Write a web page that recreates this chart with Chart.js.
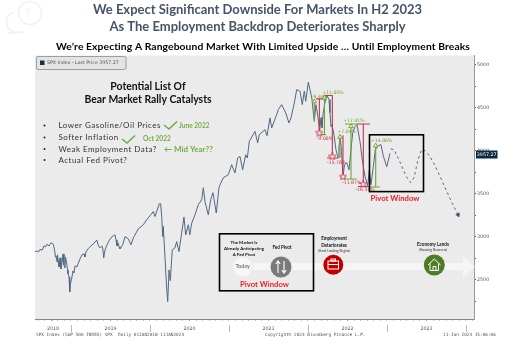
<!DOCTYPE html>
<html>
<head>
<meta charset="utf-8">
<title>SPX rangebound chart</title>
<script src="https://cdn.jsdelivr.net/npm/chart.js@4"></script>
<style>
  html, body { margin: 0; padding: 0; background: #fff; }
  canvas { display: block; filter: blur(0.35px); }
</style>
</head>
<body>
<canvas id="myChart" width="515" height="352"></canvas>
<script>
// SPX daily line (decimal year, index level)
var spxYears = [2018.544,2018.570,2018.589,2018.608,2018.633,2018.658,2018.677,2018.696,2018.722,2018.747,2018.766,2018.778,2018.791,2018.804,2018.810,2018.823,2018.829,2018.842,2018.848,2018.861,2018.873,2018.886,2018.899,2018.911,2018.924,2018.930,2018.943,2018.956,2018.962,2018.975,2018.984,2018.994,
  2019.006,2019.025,2019.038,2019.051,2019.076,2019.089,2019.114,2019.139,2019.165,2019.177,2019.190,2019.215,2019.253,2019.291,2019.316,2019.329,2019.342,2019.367,2019.392,2019.405,2019.414,2019.430,2019.456,2019.481,2019.519,2019.538,2019.557,2019.570,2019.582,2019.595,2019.608,2019.620,2019.654,2019.684,2019.725,2019.759,2019.789,2019.852,2019.915,2019.958,
  2020.042,2020.063,2020.118,2020.135,2020.148,2020.161,2020.168,2020.190,2020.211,2020.224,2020.241,2020.257,2020.282,2020.316,2020.338,2020.367,2020.401,2020.430,2020.452,2020.485,2020.503,2020.528,2020.570,2020.611,2020.654,2020.675,2020.696,2020.738,2020.768,2020.797,2020.839,2020.873,2020.892,2020.928,2020.991,
  2021.034,2021.076,2021.110,2021.139,2021.173,2021.211,2021.232,2021.257,2021.329,2021.363,2021.384,2021.456,2021.481,2021.519,2021.540,2021.604,2021.624,2021.667,2021.718,2021.759,2021.785,2021.827,2021.857,2021.899,2021.928,2021.953,2021.971,
  2022.004,2022.025,2022.051,2022.070,2022.080,2022.101,2022.127,2022.146,2022.165,2022.177,2022.190,2022.215,2022.241,2022.266,2022.278,2022.291,2022.304,2022.329,2022.354,2022.380,2022.392,2022.409,2022.424,2022.443,2022.462,2022.490,2022.519,2022.544,2022.566,2022.595,2022.620,2022.658,2022.692,2022.722,2022.756,2022.776,2022.797,2022.827,2022.852,2022.890,2022.924,2022.954,2022.997,2023.038];
var spxPrices = [2826,2837,2826,2855,2843,2895,2884,2913,2895,2930,2924,2907,2849,2767,2779,2709,2791,2698,2651,2756,2628,2698,2802,2674,2640,2767,2709,2616,2570,2535,2360,2465,
  2500,2605,2581,2663,2651,2686,2744,2791,2802,2767,2826,2860,2895,2924,2953,2959,2907,2872,2895,2849,2756,2849,2907,2953,3003,3012,3023,2965,2895,2930,2884,2860,2907,3003,2977,2907,2988,3093,3140,3198,
  3294,3236,3384,3384,3236,3003,3120,2756,2407,2248,2616,2492,2849,2872,2945,2829,3047,3229,3023,3140,3023,3159,3256,3372,3430,3570,3410,3256,3430,3512,3276,3570,3616,3686,3721,
  3837,3741,3915,3934,3779,3953,3915,4108,4224,4090,4186,4244,4174,4380,4264,4419,4477,4535,4438,4322,4380,4555,4709,4690,4535,4690,4573,
  4794,4709,4593,4419,4349,4535,4384,4221,4384,4267,4419,4558,4640,4593,4442,4279,4302,4186,4012,3919,4047,4151,3988,3698,3837,3860,3779,4012,4209,4279,4302,4108,3860,3701,3593,3779,3605,3817,4012,4058,4070,3934,3814,3969];

// Projected path, dashed
var pathYears = [2023.047,2023.089,2023.152,2023.206,2023.253,2023.300,2023.342,2023.392,2023.439,2023.481,2023.544,2023.608,2023.671,2023.759,2023.823,2023.899];
var pathPrices = [4020,4012,3895,3779,3686,3631,3686,3895,4012,4000,3934,3826,3701,3523,3395,3256];

// Rally and drawdown brackets, null breaks the line
var rallyYears = [2022.080,2022.080,null,2022.208,2022.208,null,2022.165,2022.228,null,2022.405,2022.405,null,2022.544,2022.544,null,2022.456,2022.616,null,2022.468,2022.633,null,2022.857,2022.857,null,2022.785,2022.911];
var rallyPrices = [4570,4337,null,4616,4186,null,4186,4186,null,4159,3919,null,4283,3671,null,3671,3671,null,4310,4310,null,4058,3578,null,3578,3578];
var dropYears = [2022.144,2022.144,null,2022.102,2022.215,null,2022.308,2022.308,null,2022.215,2022.312,null,2022.241,2022.380,null,2022.443,2022.443,null,2022.414,2022.468,null,2022.700,2022.700,null,2022.620,2022.785,null,2022.633,2022.785];
var dropPrices = [4601,4209,null,4601,4601,null,4640,3934,null,4640,4640,null,3915,3915,null,4178,3701,null,3683,3683,null,4310,3613,null,4310,4310,null,3585,3585];

var peakYears = [2022.080,2022.208,2022.405,2022.544,2022.857];
var peakPrices = [4570,4616,4159,4283,4058];
var troughYears = [2022.144,2022.308,2022.443,2022.700];
var troughPrices = [4209,3934,3701,3613];

var pctLabels = ["+6.44%","+11.05%","-9.08%","-15.78%","+7.04%","+17.41%","-11.87%","-16.31%","+14.06%"];
var pctYears = [2022.139,2022.316,2022.215,2022.363,2022.490,2022.582,2022.553,2022.722,2022.933];
var pctPrices = [4628,4674,4136,3864,4221,4349,3631,3547,4116];

var yTickValues = [2250,2500,2750,3000,3250,3500,3750,4000,4250,4500,4750,5000];
var yearLabels = ["2018","2019","2020","2021","2022","2023"];
var yearLabelAt = [2018.772,2019.5,2020.5,2021.5,2022.5,2023.5];
var yearStarts = [2019,2020,2021,2022,2023,2024];

var catalysts = ["Lower Gasoline/Oil Prices","Softer Inflation","Weak Employment Data?","Actual Fed Pivot?"];

function zip(xs, ys) {
  return xs.map(function (x, i) { return { x: x, y: ys[i] }; });
}

var GREEN = "#6fa32e", RED = "#c8324c", SANS = "Lato, 'Open Sans', sans-serif";

// Hollow five point star, Chart.js has only the asterisk kind
function starImage() {
  var c = document.createElement("canvas"), g = c.getContext("2d"), i;
  c.width = c.height = 8;
  g.beginPath();
  for (i = 0; i < 10; i++) {
    var r = i % 2 ? 1.7 : 3.8, a = -Math.PI / 2 + i * Math.PI / 5;
    g.lineTo(4 + r * Math.cos(a), 4.3 + r * Math.sin(a));
  }
  g.closePath();
  g.fillStyle = "#f6e6e6";
  g.strokeStyle = RED;
  g.lineWidth = 0.9;
  g.fill();
  g.stroke();
  return c;
}

function text(ctx, str, x, y, font, color, align, spacing) {
  ctx.font = font;
  ctx.fillStyle = color;
  ctx.textAlign = align || "left";
  ctx.textBaseline = "middle";
  ctx.letterSpacing = (spacing || 0) + "px";
  ctx.fillText(str, x, y);
  ctx.letterSpacing = "0px";
}

function check(ctx, a, b, c, d, e, f) {
  ctx.strokeStyle = "#70ad47";
  ctx.lineWidth = 1.6;
  ctx.beginPath();
  ctx.moveTo(a, b); ctx.lineTo(c, d); ctx.lineTo(e, f);
  ctx.stroke();
}

function circle(ctx, x, y, r, color) {
  ctx.fillStyle = color;
  ctx.beginPath();
  ctx.arc(x, y, r, 0, Math.PI * 2);
  ctx.fill();
}

// Grey panel behind the chart
var panelPlugin = {
  id: "panel",
  beforeDraw: function (chart) {
    var a = chart.chartArea, ctx = chart.ctx;
    ctx.save();
    ctx.fillStyle = "#fff";
    ctx.fillRect(0, 0, chart.width, chart.height);
    ctx.fillStyle = "#ebebeb";
    ctx.fillRect(a.left, a.top, a.right - a.left, a.bottom - a.top);

    // faint speech bubbles in the corner
    ctx.strokeStyle = "#f0f0f0";
    ctx.lineWidth = 1.5;
    ctx.beginPath();
    ctx.arc(30, 13, 11.5, 0, Math.PI * 2);
    ctx.stroke();
    ctx.beginPath();
    ctx.arc(17, 22, 10.5, 1.6, 4.3);
    ctx.stroke();
    ctx.beginPath();
    ctx.moveTo(9, 33); ctx.lineTo(24, 32);
    ctx.stroke();
    text(ctx, "?", 28, 13, "11px " + SANS, "#ededed", "center");
    ctx.restore();
  }
};

// Text, boxes and the timeline that sit on top of the line
var overlayPlugin = {
  id: "overlay",
  afterDraw: function (chart) {
    var ctx = chart.ctx, xs = chart.scales.x, ys = chart.scales.y, i;
    ctx.save();

    text(ctx, "We\u2019re Expecting A Rangebound Market With Limited Upside \u2026 Until Employment Breaks", 263, 47, "bold 10.3px " + SANS, "#000", "center", 0.1);

    // legend chip
    ctx.fillStyle = "#e4e4e4";
    ctx.strokeStyle = "#8a8a8a";
    ctx.lineWidth = 0.8;
    ctx.beginPath();
    ctx.roundRect(36.5, 56.5, 89.5, 13, 1.5);
    ctx.fill();
    ctx.stroke();
    ctx.fillStyle = "#12304f";
    ctx.fillRect(40, 60.5, 4.5, 4.5);
    text(ctx, "SPX Index - Last Price 3957.27", 47, 63, "4.7px 'DejaVu Sans'", "#555");

    // catalyst list
    text(ctx, "Potential List Of", 148, 87, "bold 10.4px " + SANS, "#111", "center");
    text(ctx, "Bear Market Rally Catalysts", 148, 100, "bold 10.4px " + SANS, "#111", "center");
    var rowY = [125.5, 137.5, 149, 160];
    catalysts.forEach(function (c, n) {
      circle(ctx, 44.5, rowY[n], 1, "#222");
      text(ctx, c, 58.5, rowY[n], "8px " + SANS, "#333", "left", 0.47);
    });
    check(ctx, 164, 125, 169, 129, 177, 121.5);
    text(ctx, "June 2022", 179, 126, "bold 6.6px " + SANS, "#70ad47");
    check(ctx, 122, 139, 127, 143, 135, 135.5);
    text(ctx, "Oct 2022", 143, 139, "bold 6.6px " + SANS, "#70ad47");
    text(ctx, "\u2190 Mid Year??", 164, 149, "bold 8px " + SANS, "#70ad47");

    // percentage notes on the brackets
    pctLabels.forEach(function (p, n) {
      var up = p.charAt(0) === "+";
      text(ctx, p, xs.getPixelForValue(pctYears[n]), ys.getPixelForValue(pctPrices[n]), "4.6px 'DejaVu Sans'", up ? GREEN : RED, "center");
    });

    // timeline arrow
    ctx.fillStyle = "#f5f5f5";
    ctx.beginPath();
    ctx.moveTo(253, 263); ctx.lineTo(463, 263); ctx.lineTo(463, 255.7);
    ctx.lineTo(475, 267); ctx.lineTo(463, 278); ctx.lineTo(463, 270); ctx.lineTo(253, 270);
    ctx.closePath();
    ctx.fill();

    // pivot window boxes
    ctx.strokeStyle = "#000";
    ctx.lineWidth = 1.6;
    ctx.strokeRect(369.5, 134.8, 54, 56.8);
    ctx.strokeRect(219.5, 233.8, 94, 57);
    text(ctx, "Pivot Window", 395, 198.5, "bold 7.7px " + SANS, "#ee1c25", "center");
    text(ctx, "Pivot Window", 264.5, 285, "bold 7.7px " + SANS, "#ee1c25", "center");

    // Today and Fed pivot
    text(ctx, "The Market Is", 244, 242.7, "bold 4.4px " + SANS, "#111", "center");
    text(ctx, "Already Anticipating", 244, 248.4, "bold 4.4px " + SANS, "#111", "center");
    text(ctx, "A Fed Pivot", 244, 254.3, "bold 4.4px " + SANS, "#111", "center");
    circle(ctx, 242.7, 266.7, 9.5, "#f7f7f7");
    text(ctx, "Today", 242.7, 266.5, "5.6px " + SANS, "#555", "center");
    text(ctx, "Fed Pivot", 282, 247.3, "bold 4.6px " + SANS, "#111", "center");
    circle(ctx, 281, 267, 10.5, "#7a7a7a");
    ctx.strokeStyle = "#fff";
    ctx.lineWidth = 1.1;
    ctx.beginPath();
    ctx.moveTo(278, 273); ctx.lineTo(278, 261); ctx.moveTo(275.8, 264); ctx.lineTo(278, 261); ctx.lineTo(280.2, 264);
    ctx.moveTo(284, 261); ctx.lineTo(284, 273); ctx.moveTo(281.8, 270); ctx.lineTo(284, 273); ctx.lineTo(286.2, 270);
    ctx.stroke();

    // Employment
    text(ctx, "Employment", 334, 238.7, "bold 4.6px " + SANS, "#111", "center");
    text(ctx, "Deteriorates", 334, 245.3, "bold 4.6px " + SANS, "#111", "center");
    text(ctx, "(Hard Landing Begins)", 334, 251, "3.4px " + SANS, "#333", "center");
    circle(ctx, 333.3, 264.7, 10, "#c00000");
    ctx.strokeStyle = "#fff";
    ctx.lineWidth = 1;
    ctx.strokeRect(328, 261, 10.5, 8);
    ctx.strokeRect(331, 259, 4.5, 2);
    ctx.beginPath();
    ctx.moveTo(328, 264.5); ctx.lineTo(338.5, 264.5);
    ctx.stroke();

    // Economy
    text(ctx, "Economy Lands", 433, 244.3, "bold 4.6px " + SANS, "#111", "center");
    text(ctx, "(Housing Recovers)", 433, 250, "3.4px " + SANS, "#333", "center");
    circle(ctx, 434.3, 265, 10.5, "#4b7d27");
    ctx.strokeStyle = "#fff";
    ctx.lineWidth = 1;
    ctx.beginPath();
    ctx.moveTo(428, 265); ctx.lineTo(434.3, 259); ctx.lineTo(440.5, 265);
    ctx.moveTo(430, 263.5); ctx.lineTo(430, 270.5); ctx.lineTo(438.5, 270.5); ctx.lineTo(438.5, 263.5);
    ctx.moveTo(433, 270.5); ctx.lineTo(433, 266.5); ctx.lineTo(436, 266.5); ctx.lineTo(436, 270.5);
    ctx.stroke();

    // last price tag
    ctx.fillStyle = "#0d2a44";
    ctx.fillRect(476, 150.5, 21.5, 8);
    text(ctx, "3957.27", 486.7, 154.7, "4.8px 'DejaVu Sans'", "#fff", "center");

    // long marks between the years
    ctx.strokeStyle = "#999";
    ctx.lineWidth = 0.7;
    ctx.beginPath();
    for (i = 0; i < yearStarts.length; i++) {
      var px = Math.round(xs.getPixelForValue(yearStarts[i])) + 0.5;
      ctx.moveTo(px, 325);
      ctx.lineTo(px, 332);
    }
    ctx.stroke();

    // footer
    var foot = "4.4px 'DejaVu Sans Mono'";
    text(ctx, "SPX Index (S&P 500 INDEX) SPX  Daily 01JAN2018-11JAN2023", 36, 335.3, foot, "#555");
    text(ctx, "Copyright\u00a9 2023 Bloomberg Finance L.P.", 265, 335.3, foot, "#555");
    text(ctx, "11-Jan-2023 15:06:06", 443, 335.3, foot, "#555");

    ctx.restore();
  }
};

var ctx = document.getElementById("myChart");
var myChart = new Chart(ctx, {
  type: "line",
  data: {
    datasets: [
      { data: zip(peakYears, peakPrices), showLine: false, pointStyle: "triangle", pointRadius: 2.6, pointBorderColor: GREEN, pointBackgroundColor: "#eef3e2", pointBorderWidth: 0.9 },
      { data: zip(troughYears, troughPrices), showLine: false, pointStyle: starImage(), pointRadius: 3 },
      { data: zip(rallyYears, rallyPrices), borderColor: GREEN, borderWidth: 1.1, pointRadius: 0, spanGaps: false },
      { data: zip(dropYears, dropPrices), borderColor: RED, borderWidth: 1.1, pointRadius: 0, spanGaps: false },
      { data: zip(spxYears, spxPrices), borderColor: "#4f6882", borderWidth: 1, pointRadius: 0 },
      {
        data: zip(pathYears, pathPrices),
        borderColor: "#44546a",
        borderWidth: 0.9,
        borderDash: [2.5, 3],
        pointStyle: "triangle",
        pointRadius: function (c) { return c.dataIndex === pathYears.length - 1 ? 2.2 : 0; },
        pointRotation: 155,
        pointBackgroundColor: "#44546a",
        pointBorderColor: "#44546a"
      }
    ]
  },
  options: {
    responsive: false,
    animation: false,
    events: [],
    elements: { line: { tension: 0 } },
    plugins: {
      legend: { display: false },
      tooltip: { enabled: false },
      title: {
        display: true,
        text: ["We Expect Significant Downside For Markets In H2 2023", "As The Employment Backdrop Deteriorates Sharply"],
        color: "#44546a",
        font: { family: "Lato, 'Open Sans', sans-serif", size: 13, weight: "bold", lineHeight: 1.25 },
        padding: { top: 2, bottom: 21 }
      }
    },
    scales: {
      x: {
        type: "linear",
        min: 2018.5443,
        max: 2024.1013,
        afterBuildTicks: function (scale) {
          var t = [], m;
          for (m = 0; m < 67; m++) t.push({ value: 2018.5833 + m / 12 });
          yearLabelAt.forEach(function (v) { t.push({ value: v }); });
          scale.ticks = t;
        },
        afterFit: function (scale) { scale.height = 33; },
        grid: { display: true, drawOnChartArea: false, drawTicks: true, tickLength: 1.5, color: "#888" },
        border: { color: "#888", width: 1 },
        ticks: {
          autoSkip: false,
          maxRotation: 0,
          padding: 5.5,
          color: "#555",
          font: { family: "'DejaVu Sans'", size: 4.8 },
          callback: function (v) {
            var n = yearLabelAt.indexOf(v);
            return n >= 0 ? yearLabels[n] : "";
          }
        }
      },
      y: {
        position: "right",
        min: 2046.5,
        max: 5104.7,
        afterBuildTicks: function (scale) {
          scale.ticks = yTickValues.map(function (v) { return { value: v }; });
        },
        afterFit: function (scale) { scale.width = 41; },
        grid: { display: true, drawOnChartArea: false, drawTicks: true, tickLength: 2, color: "#555" },
        border: { color: "#999", width: 1 },
        ticks: {
          autoSkip: false,
          padding: 1,
          color: "#555",
          font: { family: "'DejaVu Sans'", size: 4.8 },
          callback: function (v) { return v % 500 === 0 ? String(v) : ""; }
        }
      },
      // empty axis that keeps the white margin left of the panel
      gutter: {
        position: "left",
        display: true,
        afterFit: function (scale) { scale.width = 35; },
        grid: { display: false },
        border: { display: false },
        ticks: { display: false }
      }
    }
  },
  plugins: [panelPlugin, overlayPlugin]
});
</script>
</body>
</html>
